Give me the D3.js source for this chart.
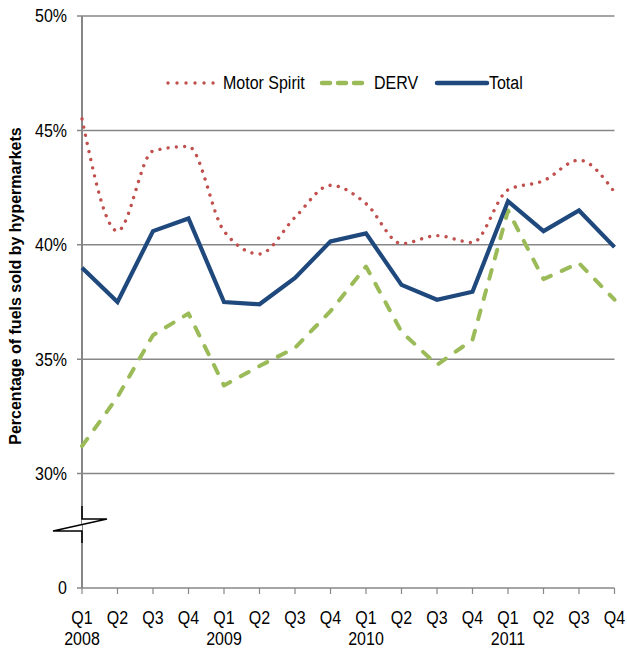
<!DOCTYPE html>
<html>
<head>
<meta charset="utf-8">
<script src="https://cdn.jsdelivr.net/npm/d3@7"></script>
<style>
  html, body { margin: 0; padding: 0; background: #fff; }
  svg { display: block; font-family: "Liberation Sans", Arial, sans-serif; }
</style>
</head>
<body>
<svg id="chart" width="627" height="648"></svg>
<script>
// Quarterly share of fuel sold by hypermarkets, 2008–2011 (percent)
const quarters = ["Q1","Q2","Q3","Q4","Q1","Q2","Q3","Q4","Q1","Q2","Q3","Q4","Q1","Q2","Q3","Q4"];
const years = ["2008","","","","2009","","","","2010","","","","2011","","",""];
const motorSpirit = [45.5, 40.6, 44.1, 44.3, 40.6, 39.6, 41.2, 42.6, 41.8, 40.05, 40.4, 40.1, 42.4, 42.8, 43.7, 42.3];
const derv        = [31.2, 33.35, 36.05, 37.0, 33.85, 34.7, 35.5, 37.1, 39.05, 36.2, 34.75, 35.85, 41.5, 38.5, 39.2, 37.6];
const total       = [39.0, 37.5, 40.6, 41.15, 37.5, 37.4, 38.55, 40.15, 40.5, 38.25, 37.6, 37.95, 41.9, 40.6, 41.5, 39.9];

// The value axis is broken: the bottom slot (position 25) is labelled "0"
const yTickValues = [25, 30, 35, 40, 45, 50];
const yTickLabels = ["0", "30%", "35%", "40%", "45%", "50%"];
const gridValues = [30, 35, 40, 45, 50];

const seriesNames = ["Motor Spirit", "DERV", "Total"];
const seriesColors = ["#C0504D", "#9BBB59", "#1F497D"];

(function draw() {
  const svg = d3.select("#chart");
  const m = { left: 82, right: 614.5, top: 16, bottom: 588 };

  const idx = d3.range(quarters.length);
  const x = d3.scalePoint().domain(idx).range([m.left, m.right]);
  const y = d3.scaleLinear().domain([25, 50]).range([m.bottom, m.top]);

  const gray = "#878787";
  const stretch = 1.1; // labels are set slightly tall

  // places a label at (px, py) with the tall lettering
  function label(g, px, py, str, anchor, dy) {
    return g.append("text")
      .attr("transform", `translate(${px},${py}) scale(1,${stretch})`)
      .attr("text-anchor", anchor || "start")
      .attr("dy", dy || 0)
      .attr("font-size", 16).attr("fill", "#000")
      .text(str);
  }

  // horizontal gridlines with left tick stubs
  svg.append("g").selectAll("line").data(gridValues).join("line")
    .attr("x1", m.left - 5).attr("x2", m.right)
    .attr("y1", d => y(d)).attr("y2", d => y(d))
    .attr("stroke", gray).attr("stroke-width", 1.5);

  // y tick labels
  const yl = svg.append("g");
  yTickValues.forEach((v, i) => label(yl, 67, y(v), yTickLabels[i], "end", "0.36em"));

  // x axis line and ticks
  svg.append("line").attr("x1", m.left - 5).attr("x2", m.right)
    .attr("y1", m.bottom).attr("y2", m.bottom)
    .attr("stroke", gray).attr("stroke-width", 1.5);
  svg.append("g").selectAll("line").data(idx).join("line")
    .attr("x1", d => x(d)).attr("x2", d => x(d))
    .attr("y1", m.bottom).attr("y2", m.bottom + 6)
    .attr("stroke", gray).attr("stroke-width", 1.2);

  // y axis line
  svg.append("line").attr("x1", m.left).attr("x2", m.left)
    .attr("y1", m.top).attr("y2", m.bottom)
    .attr("stroke", gray).attr("stroke-width", 2);

  // x labels: quarter row and year row
  const xl = svg.append("g");
  idx.forEach(i => {
    label(xl, x(i), 624, quarters[i], "middle");
    if (years[i]) label(xl, x(i), 645, years[i], "middle");
  });

  // axis break marker
  const L = m.left;
  const brk = [[L, 506], [L, 519], [107, 519], [53, 531], [L, 531], [L, 543]];
  svg.append("polygon")
    .attr("points", [[L, 519], [107, 519], [53, 531], [L, 531]].map(p => p.join(",")).join(" "))
    .attr("fill", "#fff");
  svg.append("path").attr("d", d3.line()(brk))
    .attr("fill", "none").attr("stroke", "#000").attr("stroke-width", 1.5);

  // series lines
  const smooth = d3.line().x((d, i) => x(i)).y(d => y(d)).curve(d3.curveMonotoneX);
  const straight = d3.line().x((d, i) => x(i)).y(d => y(d));

  svg.append("path").datum(motorSpirit).attr("d", smooth)
    .attr("fill", "none").attr("stroke", seriesColors[0]).attr("stroke-width", 3.4)
    .attr("stroke-linecap", "round").attr("stroke-dasharray", "0.01 8.3");
  svg.append("path").datum(derv).attr("d", straight)
    .attr("fill", "none").attr("stroke", seriesColors[1]).attr("stroke-width", 4)
    .attr("stroke-linecap", "round").attr("stroke-linejoin", "round")
    .attr("stroke-dasharray", "9 12");
  svg.append("path").datum(total).attr("d", straight)
    .attr("fill", "none").attr("stroke", seriesColors[2]).attr("stroke-width", 4.2)
    .attr("stroke-linejoin", "miter");

  // legend
  const legendY = 83;
  const legendItems = [
    { x1: 168, x2: 214, tx: 223, dash: "0.01 9", w: 3.4 },
    { x1: 322, x2: 364, tx: 374, dash: "8 8", w: 4.5 },
    { x1: 437, x2: 487, tx: 489, dash: null, w: 4.5 }
  ];
  const lg = svg.append("g");
  legendItems.forEach((it, i) => {
    const l = lg.append("line").attr("x1", it.x1).attr("x2", it.x2)
      .attr("y1", legendY).attr("y2", legendY)
      .attr("stroke", seriesColors[i]).attr("stroke-width", it.w)
      .attr("stroke-linecap", "round");
    if (it.dash) l.attr("stroke-dasharray", it.dash);
    label(lg, it.tx, legendY, seriesNames[i], "start", "0.36em");
  });

  // y axis title
  svg.append("text")
    .attr("transform", "translate(21,286) rotate(-90)")
    .attr("text-anchor", "middle").attr("font-size", 16).attr("font-weight", "bold")
    .text("Percentage of fuels sold by hypermarkets");
})();
</script>
</body>
</html>
